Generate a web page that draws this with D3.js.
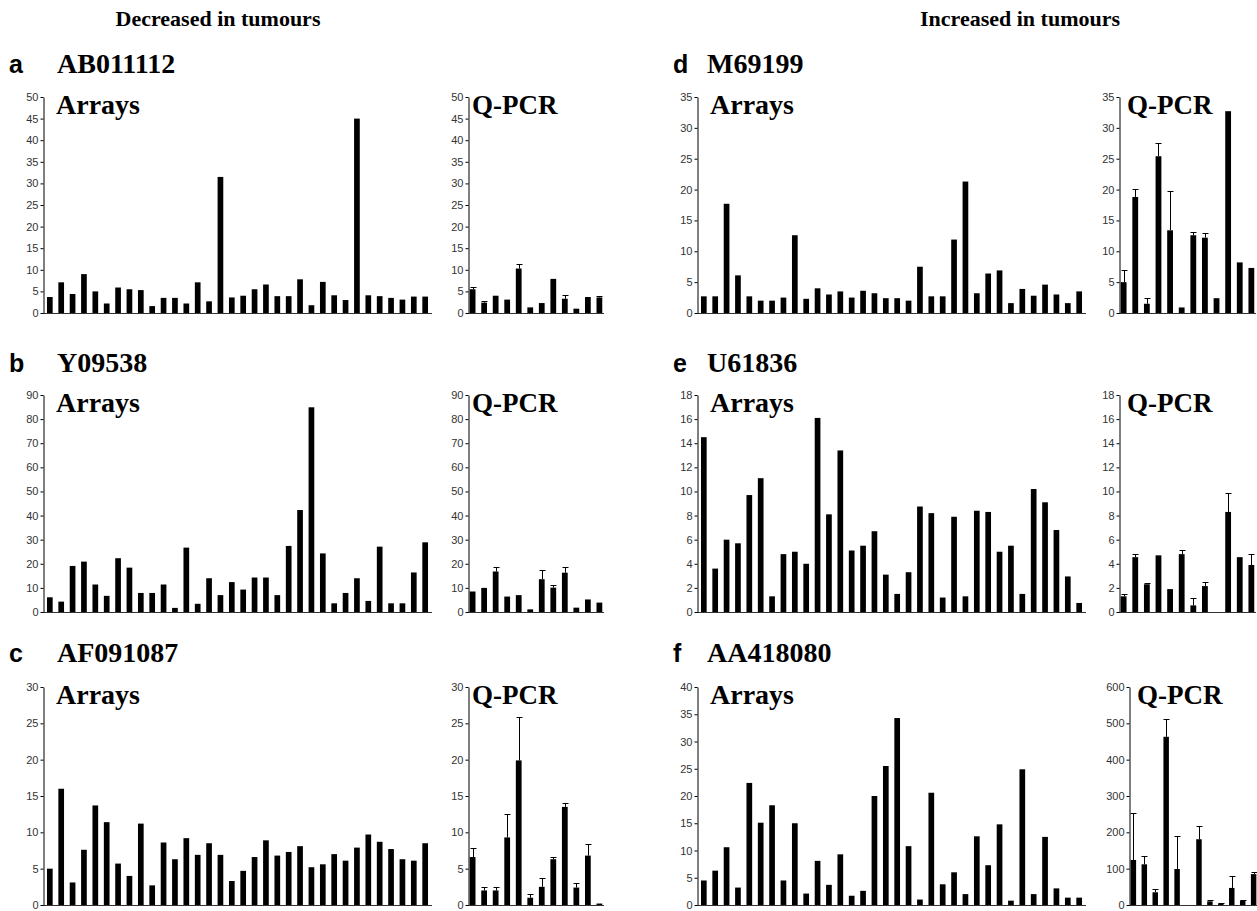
<!DOCTYPE html>
<html><head><meta charset="utf-8">
<script src="https://cdn.jsdelivr.net/npm/d3@7"></script>
<style>body{margin:0;background:#fff} svg{display:block}</style>
</head><body><svg id="chart" width="1257" height="911"></svg>
<script>
// ---------- data ----------
const headers = ["Decreased in tumours", "Increased in tumours"];
const panelLetters = ["a", "b", "c", "d", "e", "f"];
const geneNames = ["AB011112", "Y09538", "AF091087", "M69199", "U61836", "AA418080"];

const arraysA = [3.7, 7.1, 4.4, 9.0, 5.0, 2.2, 5.9, 5.5, 5.3, 1.6, 3.5, 3.5, 2.2, 7.1, 2.7, 31.5, 3.6, 4.0, 5.5, 6.6, 3.9, 3.9, 7.8, 1.8, 7.2, 4.1, 3.0, 45.0, 4.1, 3.9, 3.5, 3.1, 3.8, 3.8];
const qpcrA = [5.5, 2.4, 4.0, 3.1, 10.3, 1.3, 2.3, 7.9, 3.3, 1.0, 3.7, 3.6];
const qpcrErrA = [0.5, 0.3, 0, 0, 1.1, 0, 0, 0, 0.9, 0, 0, 0.4];

const arraysB = [6.1, 4.3, 19.1, 20.9, 11.4, 6.7, 22.3, 18.4, 7.9, 7.9, 11.4, 1.7, 26.7, 3.4, 14.0, 7.0, 12.4, 9.3, 14.3, 14.3, 7.0, 27.4, 42.3, 84.9, 24.3, 3.6, 7.9, 14.0, 4.6, 27.1, 3.6, 3.6, 16.4, 28.9];
const qpcrB = [8.5, 10.0, 16.8, 6.4, 7.0, 1.1, 13.6, 10.1, 16.3, 1.8, 5.2, 3.9];
const qpcrErrB = [0, 0, 1.7, 0, 0, 0, 4.0, 1.1, 2.2, 0, 0, 0];

const arraysC = [5.0, 16.0, 3.1, 7.6, 13.7, 11.4, 5.7, 4.0, 11.2, 2.7, 8.6, 6.3, 9.2, 6.9, 8.5, 6.9, 3.3, 4.7, 6.6, 8.9, 6.8, 7.3, 8.1, 5.2, 5.6, 7.0, 6.1, 7.9, 9.7, 8.7, 7.7, 6.3, 6.1, 8.5];
const qpcrC = [6.6, 2.0, 2.0, 9.3, 19.9, 1.0, 2.5, 6.3, 13.5, 2.4, 6.8, 0.2];
const qpcrErrC = [1.3, 0.5, 0.5, 3.2, 6.0, 0.5, 1.2, 0.3, 0.6, 0.6, 1.6, 0];

const arraysD = [2.7, 2.7, 17.7, 6.1, 2.7, 2.0, 2.0, 2.5, 12.6, 2.3, 4.0, 3.0, 3.5, 2.5, 3.6, 3.2, 2.4, 2.4, 2.0, 7.5, 2.7, 2.7, 11.9, 21.3, 3.2, 6.4, 6.9, 1.6, 3.9, 2.8, 4.6, 3.0, 1.6, 3.5];
const qpcrD = [5.0, 18.8, 1.5, 25.4, 13.4, 0.9, 12.6, 12.2, 2.4, 32.7, 8.2, 7.3];
const qpcrErrD = [1.9, 1.3, 1.0, 2.1, 6.3, 0, 0.6, 0.8, 0, 0, 0, 0];

const arraysE = [14.5, 3.6, 6.0, 5.7, 9.7, 11.1, 1.3, 4.8, 5.0, 4.0, 16.1, 8.1, 13.4, 5.1, 5.5, 6.7, 3.1, 1.5, 3.3, 8.75, 8.2, 1.2, 7.9, 1.3, 8.4, 8.3, 5.0, 5.5, 1.5, 10.2, 9.1, 6.8, 2.95, 0.75];
const qpcrE = [1.3, 4.55, 2.3, 4.7, 1.9, 4.8, 0.55, 2.15, 0, 8.3, 4.55, 3.9];
const qpcrErrE = [0.2, 0.25, 0.1, 0, 0, 0.35, 0.6, 0.35, 0, 1.6, 0, 0.9];

const arraysF = [4.5, 6.3, 10.6, 3.2, 22.4, 15.1, 18.3, 4.5, 15.0, 2.1, 8.1, 3.7, 9.3, 1.7, 2.6, 20.0, 25.5, 34.3, 10.8, 1.0, 20.6, 3.8, 6.0, 2.0, 12.6, 7.3, 14.8, 0.8, 24.9, 2.0, 12.5, 3.05, 1.35, 1.35];
const qpcrF = [124, 112, 35, 463, 99, 0, 181, 10, 4, 47, 12, 85];
const qpcrErrF = [130, 22, 8, 48, 91, 0, 37, 5, 2, 32, 2, 5];

const ticksA = [0, 5, 10, 15, 20, 25, 30, 35, 40, 45, 50];
const ticksB = [0, 10, 20, 30, 40, 50, 60, 70, 80, 90];
const ticksC = [0, 5, 10, 15, 20, 25, 30];
const ticksD = [0, 5, 10, 15, 20, 25, 30, 35];
const ticksE = [0, 2, 4, 6, 8, 10, 12, 14, 16, 18];
const ticksF = [0, 5, 10, 15, 20, 25, 30, 35, 40];
const ticksFQ = [0, 100, 200, 300, 400, 500, 600];

const subLabels = ["Arrays", "Q-PCR"];

// ---------- layout ----------
const W = 1257, H = 911;
const rowTop = [97, 395, 687], rowBase = [313, 612, 905], titleBase = [73, 372, 662];
const colArr = [[43, 432], [697, 1086]];
const colQ = [[468, 604], [1119, 1256]];
const letterX = [9, 673], nameX = [57, 707];
const headerX = [218, 1020];

const panels = [
  {arr: arraysA, q: qpcrA, qe: qpcrErrA, ticks: ticksA, qticks: ticksA, col: 0, row: 0},
  {arr: arraysB, q: qpcrB, qe: qpcrErrB, ticks: ticksB, qticks: ticksB, col: 0, row: 1},
  {arr: arraysC, q: qpcrC, qe: qpcrErrC, ticks: ticksC, qticks: ticksC, col: 0, row: 2},
  {arr: arraysD, q: qpcrD, qe: qpcrErrD, ticks: ticksD, qticks: ticksD, col: 1, row: 0},
  {arr: arraysE, q: qpcrE, qe: qpcrErrE, ticks: ticksE, qticks: ticksE, col: 1, row: 1},
  {arr: arraysF, q: qpcrF, qe: qpcrErrF, ticks: ticksF, qticks: ticksFQ, col: 1, row: 2, qRange: [1129, 1258]}
];

const svg = d3.select("#chart");
svg.append("rect").attr("width", W).attr("height", H).attr("fill", "#fff");

const serif = "'Liberation Serif','Times New Roman',Times,serif";
const sans = "'Liberation Sans',Arial,Helvetica,sans-serif";

headers.forEach((h, i) => {
  svg.append("text").attr("x", headerX[i]).attr("y", 26)
    .attr("text-anchor", "middle").attr("font-family", serif)
    .attr("font-weight", "bold").attr("font-size", 22).text(h);
});

function drawAxis(g, y, ticks, x0) {
  const ax = g.append("g").attr("transform", `translate(${x0},0)`)
    .call(d3.axisLeft(y).tickValues(ticks).tickSize(3).tickSizeOuter(0).tickPadding(2));
  ax.select(".domain").attr("stroke", "#000").attr("stroke-width", 1);
  ax.selectAll(".tick line").attr("stroke", "#000");
  ax.selectAll(".tick text").attr("font-family", sans).attr("font-size", 11).attr("fill", "#333");
}

panels.forEach((p, i) => {
  const g = svg.append("g");
  const top = rowTop[p.row], base = rowBase[p.row];
  // titles
  g.append("text").attr("x", letterX[p.col]).attr("y", titleBase[p.row])
    .attr("font-family", sans).attr("font-weight", "bold").attr("font-size", 25).text(panelLetters[i]);
  g.append("text").attr("x", nameX[p.col]).attr("y", titleBase[p.row])
    .attr("font-family", serif).attr("font-weight", "bold").attr("font-size", 28).text(geneNames[i]);

  // arrays chart
  const ar = colArr[p.col];
  const y = d3.scaleLinear().domain([0, d3.max(p.ticks)]).range([base, top]);
  const x = d3.scaleBand().domain(d3.range(p.arr.length)).range(ar).paddingInner(0.5).paddingOuter(0.35);
  g.selectAll(".abar").data(p.arr).join("rect").attr("class", "abar")
    .attr("x", (d, k) => x(k)).attr("width", x.bandwidth())
    .attr("y", d => y(d)).attr("height", d => base - y(d)).attr("fill", "#000");
  g.append("line").attr("x1", ar[0]).attr("x2", ar[1]).attr("y1", base + 0.5).attr("y2", base + 0.5)
    .attr("stroke", "#333").attr("stroke-width", 1);
  drawAxis(g, y, p.ticks, ar[0] + 0.5);
  g.append("text").attr("x", ar[0] + 13).attr("y", top + 17)
    .attr("font-family", serif).attr("font-weight", "bold").attr("font-size", 28).text(subLabels[0]);

  // Q-PCR chart
  const qr = p.qRange || colQ[p.col];
  const yq = d3.scaleLinear().domain([0, d3.max(p.qticks)]).range([base, top]);
  const xq = d3.scaleBand().domain(d3.range(p.q.length)).range(qr).paddingInner(0.5).paddingOuter(0.15);
  const qd = p.q.map((v, k) => ({v, e: p.qe[k], k}));
  g.selectAll(".qerr").data(qd.filter(d => d.e > 0)).join("path").attr("class", "qerr")
    .attr("d", d => {
      const cx = Math.round(xq(d.k) + xq.bandwidth() / 2) + 0.5;
      const y1 = yq(d.v), y2 = Math.round(yq(d.v + d.e)) + 0.5;
      return `M${cx},${y1}V${y2}M${cx - 3},${y2}H${cx + 3}`;
    })
    .attr("stroke", "#000").attr("stroke-width", 1).attr("fill", "none");
  g.selectAll(".qbar").data(qd).join("rect").attr("class", "qbar")
    .attr("x", d => xq(d.k)).attr("width", xq.bandwidth())
    .attr("y", d => yq(d.v)).attr("height", d => base - yq(d.v)).attr("fill", "#000");
  g.append("line").attr("x1", qr[0]).attr("x2", qr[1]).attr("y1", base + 0.5).attr("y2", base + 0.5)
    .attr("stroke", "#333").attr("stroke-width", 1);
  drawAxis(g, yq, p.qticks, qr[0] + 0.5);
  g.append("text").attr("x", qr[0] + (p.col === 0 ? 4 : 8)).attr("y", top + 17)
    .attr("font-family", serif).attr("font-weight", "bold").attr("font-size", 27).text(subLabels[1]);
});
</script>
</body></html>
